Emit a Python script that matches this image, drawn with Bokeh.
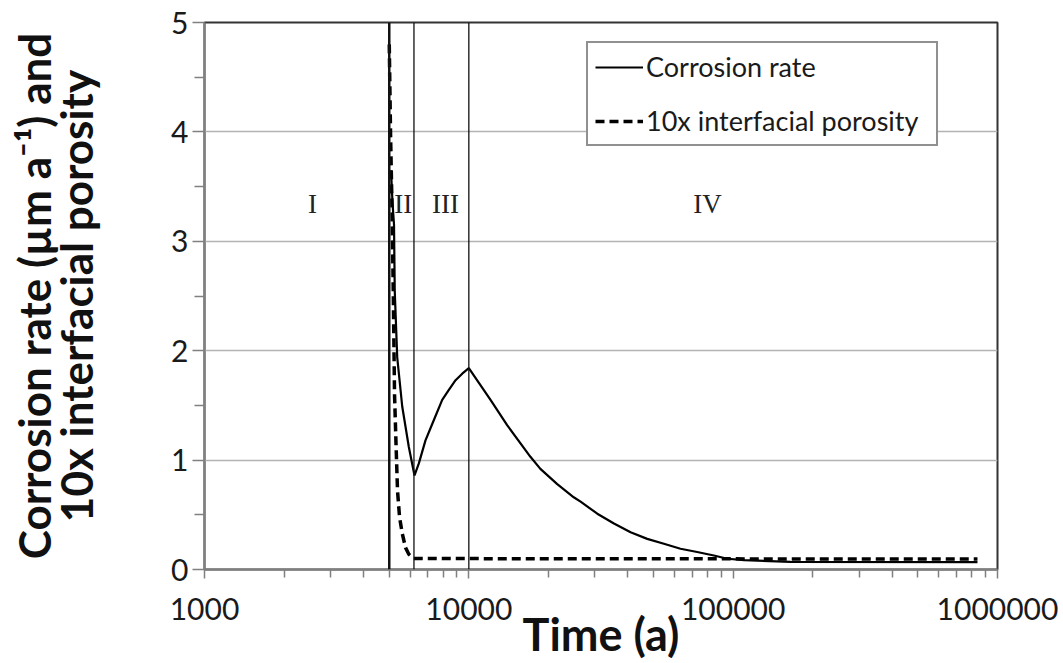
from bokeh.plotting import figure
from bokeh.models import FixedTicker, Span, Label, Legend, LegendItem, NumeralTickFormatter
from bokeh.embed import file_html
from bokeh.resources import INLINE

# ---- data ----
rate_t = [5077, 5144, 5212, 5244, 5359, 5598, 5929, 6230, 6470, 6855, 7270, 7930,
          8390, 8910, 9440, 10000, 12080, 13960, 17100, 18650, 21600, 24940, 26470,
          30620, 35400, 40920, 47300, 54700, 63200, 73100, 84500, 95100, 110000,
          165000, 840000]
rate_v = [3.65, 3.35, 3.15, 2.55, 1.94, 1.49, 1.12, 0.86, 0.97, 1.18, 1.33, 1.55,
          1.64, 1.73, 1.79, 1.84, 1.55, 1.32, 1.03, 0.92, 0.78, 0.66, 0.62,
          0.51, 0.42, 0.34, 0.28, 0.235, 0.19, 0.16, 0.128, 0.098, 0.085,
          0.07, 0.068]

poro_t = [5000, 5055, 5122, 5180, 5235, 5303, 5373, 5468, 5598, 5762, 5929, 6177, 840000]
poro_v = [4.8, 4.0, 3.3, 2.5, 1.6, 1.15, 0.72, 0.48, 0.33, 0.2, 0.14, 0.10, 0.095]

phase_bounds = [5000, 6200, 10000]
phase_names = ["I", "II", "III", "IV"]
phase_x = [2563, 5650, 8163, 80000]
phase_y = 3.34

x_major = [1000, 10000, 100000, 1000000]
x_minor = [m * d for d in (1000, 10000, 100000) for m in range(2, 10)]
y_major = [0, 1, 2, 3, 4, 5]
y_minor = [0.5, 1.5, 2.5, 3.5, 4.5]

series_labels = ["Corrosion rate", "10x interfacial porosity"]
x_title = "Time (a)"
y_title = "Corrosion rate (\u00b5m a\u207b\u00b9) and\n10x interfacial porosity"

# ---- figure ----
p = figure(width=1063, height=663, x_axis_type="log", x_range=(1000, 1e6), y_range=(0, 5),
           output_backend="svg", toolbar_location=None,
           min_border_left=204, min_border_right=66, min_border_top=22, min_border_bottom=94)

p.background_fill_color = "white"
p.border_fill_color = "white"
p.outline_line_color = "#333333"
p.outline_line_width = 2

p.xaxis.ticker = FixedTicker(ticks=x_major, minor_ticks=x_minor)
p.yaxis.ticker = FixedTicker(ticks=y_major, minor_ticks=y_minor)
p.xaxis.formatter = NumeralTickFormatter(format="0")

for ax in (p.xaxis, p.yaxis):
    ax.axis_line_color = "#808080"
    ax.axis_line_width = 2
    ax.major_tick_line_color = "#808080"
    ax.minor_tick_line_color = "#808080"
    ax.major_tick_line_width = 1.5
    ax.minor_tick_line_width = 1.5
    ax.major_tick_in = 0
    ax.minor_tick_in = 0
    ax.major_label_text_font = "Lato"
    ax.major_label_text_font_size = "30px"
    ax.major_label_text_color = "#1a1a1a"
    ax.axis_label_text_font = "Lato"
    ax.axis_label_text_font_style = "bold"
    ax.axis_label_text_color = "#111111"

p.xaxis.major_tick_out = 9
p.xaxis.minor_tick_out = 8
p.yaxis.major_tick_out = 12
p.yaxis.minor_tick_out = 10
p.xaxis.major_label_standoff = 19
p.yaxis.major_label_standoff = 4

p.yaxis.axis_label = y_title
p.yaxis.axis_label_text_font_size = "44px"
p.yaxis.axis_label_text_line_height = 0.8
p.yaxis.axis_label_standoff = 66

p.xaxis.axis_label = x_title
p.xaxis.axis_label_text_font_size = "45px"
p.xaxis.axis_label_text_line_height = 0.8
p.xaxis.axis_label_standoff = -16

p.xgrid.grid_line_color = None
p.ygrid.grid_line_color = "#b3b3b3"
p.ygrid.grid_line_width = 1.5

# phase boundaries
for i, b in enumerate(phase_bounds):
    p.add_layout(Span(location=b, dimension="height", line_color="#111111",
                      line_width=2.5 if i == 0 else 1.3))

# phase numerals
for name, xx in zip(phase_names, phase_x):
    p.add_layout(Label(x=xx, y=phase_y, text=name, text_align="center",
                       text_baseline="middle", text_font="Liberation Serif",
                       text_font_size="27px", text_color="#222222"))

r1 = p.line(rate_t, rate_v, line_color="black", line_width=2.2)
r2 = p.line(poro_t, poro_v, line_color="black", line_width=3.5, line_dash="9 5")

legend = Legend(items=[LegendItem(label=series_labels[0], renderers=[r1]),
                       LegendItem(label=series_labels[1], renderers=[r2])],
                location=(382, 423))
legend.label_text_font = "Lato"
legend.label_text_font_size = "27px"
legend.label_text_color = "#1a1a1a"
legend.glyph_width = 48
legend.glyph_height = 28
legend.spacing = 21
legend.padding = 7
legend.label_standoff = 3
legend.label_width = 283
legend.border_line_color = "#222222"
legend.border_line_width = 2
legend.background_fill_alpha = 1
p.add_layout(legend)

open("out.html", "w").write(file_html(p, INLINE))
